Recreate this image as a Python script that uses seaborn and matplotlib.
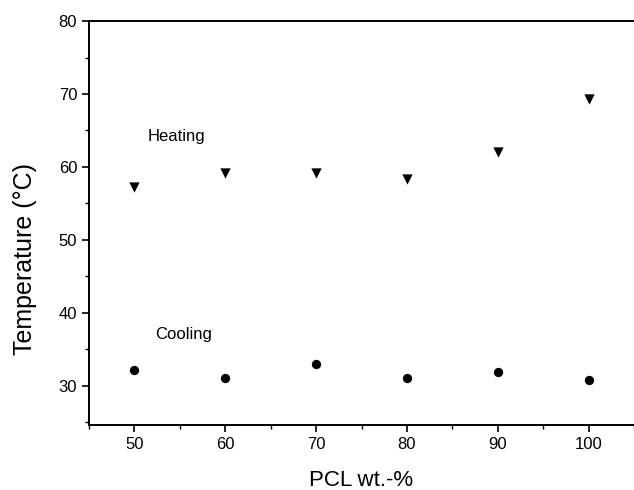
import matplotlib
matplotlib.use("Agg")
import matplotlib.pyplot as plt
import seaborn as sns
import pandas as pd
from matplotlib.ticker import MultipleLocator

pcl = [50, 60, 70, 80, 90, 100]
heating = [57.3, 59.2, 59.2, 58.4, 62.0, 69.3]
cooling = [32.1, 31.0, 32.9, 31.0, 31.8, 30.8]

df = pd.DataFrame({
    'pcl': pcl * 2,
    'temp': heating + cooling,
    'mode': ['Heating'] * len(pcl) + ['Cooling'] * len(pcl),
})

sns.set_style('ticks')
plt.rcParams['font.family'] = ['Liberation Sans', 'DejaVu Sans']
plt.rcParams['text.color'] = 'black'
plt.rcParams['axes.labelcolor'] = 'black'
plt.rcParams['xtick.color'] = 'black'
plt.rcParams['ytick.color'] = 'black'

fig = plt.figure(figsize=(6.34, 4.9), dpi=100)
ax = fig.add_axes([0.1404, 0.1327, 0.8596, 0.8243])

sns.scatterplot(data=df[df['mode'] == 'Heating'], x='pcl', y='temp', marker='v',
                s=55, color='black', edgecolor='black', linewidth=0, ax=ax, legend=False)
sns.scatterplot(data=df[df['mode'] == 'Cooling'], x='pcl', y='temp', marker='o',
                s=45, color='black', edgecolor='black', linewidth=0, ax=ax, legend=False)

ax.set_xlim(45, 105)
ax.set_ylim(24.6, 80)
ax.xaxis.set_major_locator(MultipleLocator(10))
ax.xaxis.set_minor_locator(MultipleLocator(5))
ax.yaxis.set_major_locator(MultipleLocator(10))
ax.yaxis.set_minor_locator(MultipleLocator(5))
ax.set_yticks([30, 40, 50, 60, 70, 80])
ax.tick_params(which='major', length=5, width=1.2, labelsize=12, colors='black')
ax.tick_params(which='minor', length=3, width=1.0, colors='black')

for s in ax.spines.values():
    s.set_color('black')
    s.set_linewidth(1.4)
ax.spines['right'].set_visible(False)

ax.text(51.4, 64.2, 'Heating', fontsize=12, va='center', ha='left')
ax.text(52.3, 37.0, 'Cooling', fontsize=12, va='center', ha='left')

ax.set_xlabel('PCL wt.-%', fontsize=16, labelpad=13)
ax.set_ylabel('Temperature (°C)', fontsize=18)
ax.yaxis.set_label_coords(-0.095, 0.41)

fig.savefig('out.png', dpi=100)
